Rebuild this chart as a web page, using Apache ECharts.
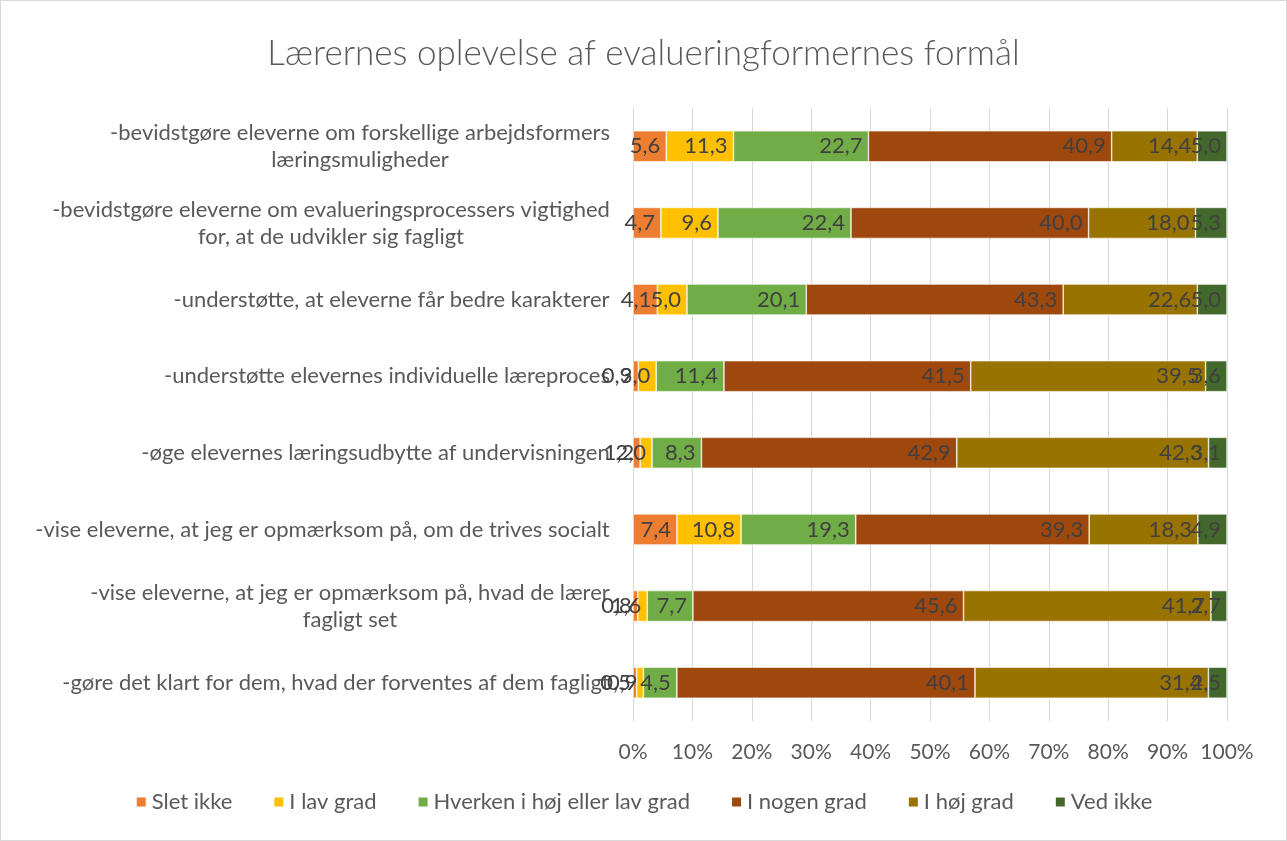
<!DOCTYPE html>
<html>
<head>
<meta charset="utf-8">
<script src="https://cdn.jsdelivr.net/npm/echarts@6/dist/echarts.min.js"></script>
<style>
  html, body { margin: 0; padding: 0; background: #fff; }
  #chart { width: 1287px; height: 841px; box-sizing: border-box; border: 1px solid #d9d9d9; }
</style>
</head>
<body>
<div id="chart"></div>
<script>
// categories, top to bottom
const categories = [
  "-bevidstgøre eleverne om forskellige arbejdsformers\nlæringsmuligheder",
  "-bevidstgøre eleverne om evalueringsprocessers vigtighed\nfor, at de udvikler sig fagligt",
  "-understøtte, at eleverne får bedre karakterer",
  "-understøtte elevernes individuelle læreproces",
  "-øge elevernes læringsudbytte af undervisningen",
  "-vise eleverne, at jeg er opmærksom på, om de trives socialt",
  "-vise eleverne, at jeg er opmærksom på, hvad de lærer\nfagligt set",
  "-gøre det klart for dem, hvad der forventes af dem fagligt"
];

const sletIkke   = [5.6, 4.7, 4.1, 0.9, 1.2, 7.4, 0.8, 0.5];
const iLavGrad   = [11.3, 9.6, 5.0, 3.0, 2.0, 10.8, 1.6, 0.9];
const hverken    = [22.7, 22.4, 20.1, 11.4, 8.3, 19.3, 7.7, 4.5];
const iNogenGrad = [40.9, 40.0, 43.3, 41.5, 42.9, 39.3, 45.6, 40.1];
const iHoejGrad  = [14.4, 18.0, 22.6, 39.5, 42.3, 18.3, 41.7, 31.4];
const vedIkke    = [5.0, 5.3, 5.0, 3.6, 3.1, 4.9, 2.7, 2.5];

const seriesNames = ["Slet ikke", "I lav grad", "Hverken i høj eller lav grad", "I nogen grad", "I høj grad", "Ved ikke"];
const seriesValues = [sletIkke, iLavGrad, hverken, iNogenGrad, iHoejGrad, vedIkke];
const colors = ["#ED7D31", "#FFC000", "#70AD47", "#9E480E", "#997300", "#43682B"];

const FONT = "Lato";
const textColor = "#595959";
const catFontSize = 22;

// 100% stacked: each row is scaled to its own total
let totals = categories.map((c, i) => seriesValues.reduce((s, arr) => s + arr[i], 0));

// centre the lines of the wrapped category labels like Excel does
let ctx = document.createElement("canvas").getContext("2d");
ctx.font = catFontSize + "px " + FONT;
let rich = {};
categories.forEach((c, i) => {
  let w = Math.max(...c.split("\n").map(l => ctx.measureText(l).width));
  rich["r" + i] = {
    width: Math.ceil(w) + 2,
    align: "center",
    fontSize: catFontSize,
    fontFamily: FONT,
    color: textColor,
    lineHeight: 27,
  };
});

let series = seriesNames.map((name, k) => ({
  name: name,
  type: "bar",
  stack: "total",
  barWidth: 31,
  itemStyle: { color: colors[k], borderColor: "#fff", borderWidth: 0.6 },
  label: {
    show: true,
    position: "insideRight",
    distance: 6,
    color: "#404040",
    fontSize: 22,
    fontFamily: FONT,
    formatter: p => p.data.raw.toFixed(1).replace(".", ","),
  },
  data: seriesValues[k].map((v, i) => ({ value: v / totals[i] * 100, raw: v })),
}));

let option = {
  animation: false,
  color: colors,
  title: {
    text: "Lærernes oplevelse af evalueringformernes formål",
    left: "center",
    top: 30,
    textStyle: { fontFamily: FONT, fontSize: 35, fontWeight: 300, color: textColor },
  },
  legend: {
    bottom: 22,
    left: "center",
    itemWidth: 11,
    itemHeight: 11,
    itemGap: 40,
    icon: "rect",
    textStyle: { fontFamily: FONT, fontSize: 22, color: textColor },
    data: seriesNames,
  },
  grid: { left: 632, right: 59, top: 107, bottom: 119, containLabel: false },
  xAxis: {
    type: "value",
    min: 0,
    max: 100,
    interval: 10,
    axisLine: { show: false },
    axisTick: { show: false },
    splitLine: { lineStyle: { color: "#d9d9d9", width: 1 } },
    axisLabel: {
      formatter: "{value}%",
      margin: 21,
      color: textColor,
      fontSize: 21,
      fontFamily: FONT,
    },
  },
  yAxis: {
    type: "category",
    inverse: true,
    data: categories,
    axisLine: { show: true, lineStyle: { color: "#d9d9d9" } },
    axisTick: { show: false },
    axisLabel: {
      margin: 22,
      formatter: (v, i) => v.split("\n").map(l => "{r" + i + "|" + l + "}").join("\n"),
      rich: rich,
    },
  },
  series: series,
};

let myChart = echarts.init(document.getElementById("chart"));
myChart.setOption(option);
</script>
</body>
</html>
